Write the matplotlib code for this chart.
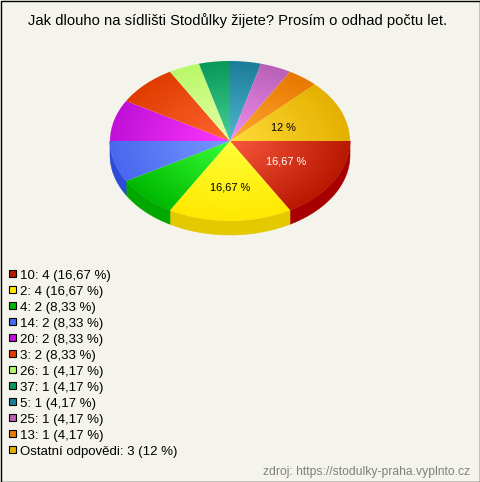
import numpy as np
import matplotlib
matplotlib.use("Agg")
import matplotlib.pyplot as plt
from matplotlib.patches import Wedge, Rectangle, Polygon
from matplotlib.colors import to_rgb
from matplotlib.transforms import Affine2D

plt.rcParams['font.family'] = ['Liberation Sans', 'DejaVu Sans']

title = "Jak dlouho na sídlišti Stodůlky žijete? Prosím o odhad počtu let."
source = "zdroj: https://stodulky-praha.vyplnto.cz"
categories = ["10", "2", "4", "14", "20", "3", "26", "37", "5", "25", "13", "Ostatní odpovědi"]
counts = [4, 4, 2, 2, 2, 2, 1, 1, 1, 1, 1, 3]
percents = ["16,67", "16,67", "8,33", "8,33", "8,33", "8,33", "4,17", "4,17", "4,17", "4,17", "4,17", "12"]
edge_colors = ["#b81800", "#ffe800", "#00b800", "#4868f0", "#c010d8", "#e03c00",
               "#b8f868", "#089858", "#1c7c98", "#b860b8", "#e87800", "#e4b000"]
centre_colors = ["#f8583c", "#ffff38", "#38ff38", "#7898ff", "#ff38ff", "#ff6830",
                 "#e8ffa8", "#48d098", "#50b8d0", "#f090f0", "#ffa830", "#ffdc38"]
side_colors = ["#a80000", "#e4c800", "#00a800", "#2c4cd8"]
pie_labels = {0: (286, 161, "white"), 1: (230, 188, "black"), 11: (283, 128, "black")}

BG = "#f5f4ec"
CX, CY, RX, RY, DEPTH = 230, 141, 120, 80, 14

fig = plt.figure(figsize=(4.80, 4.82), dpi=100, facecolor=BG)
ax = fig.add_axes([0, 0, 1, 1])
ax.set_xlim(0, 480)
ax.set_ylim(482, 0)
ax.axis("off")

angles = np.cumsum([0] + counts) / sum(counts) * 360.0

# side wall (front half only)
for i in range(len(counts)):
    a0, a1 = angles[i], min(angles[i + 1], 180)
    if a0 >= 180:
        break
    t = np.radians(np.linspace(a0, a1, 60))
    x = CX + RX * np.cos(t)
    y = CY + RY * np.sin(t)
    pts = np.r_[np.c_[x, y], np.c_[x[::-1], y[::-1] + DEPTH]]
    ax.add_patch(Polygon(pts, closed=True, fc=side_colors[i], ec=side_colors[i], lw=0.4))

# top face with radial gradient
g = np.linspace(-1.02, 1.02, 300)
xx, yy = np.meshgrid(g, g)
rr = np.clip(np.hypot(xx, yy), 0, 1)[..., None]
to_pix = Affine2D().scale(RX, RY).translate(CX, CY)
extent = (CX - 1.02 * RX, CX + 1.02 * RX, CY + 1.02 * RY, CY - 1.02 * RY)
for i in range(len(counts)):
    rgb = np.array(to_rgb(centre_colors[i])) * (1 - rr) + np.array(to_rgb(edge_colors[i])) * rr
    im = ax.imshow(rgb, extent=extent, origin="upper", aspect="auto", interpolation="bilinear", zorder=3)
    wedge = Wedge((0, 0), 1, angles[i], angles[i + 1], transform=to_pix + ax.transData, fc="none", ec="none")
    ax.add_patch(wedge)
    im.set_clip_path(wedge)
ax.set_xlim(0, 480)
ax.set_ylim(482, 0)

for i, (x, y, c) in pie_labels.items():
    ax.text(x, y, f"{percents[i]} %", ha="center", va="center", fontsize=7.9, color=c, zorder=5)

ax.text(237.5, 20.5, title, ha="center", va="center", fontsize=10.65, color="black")

for i, (cat, n, p) in enumerate(zip(categories, counts, percents)):
    y = 274 + 16 * i
    ax.add_patch(Rectangle((9, y - 4), 7, 7, fc=edge_colors[i], ec="black", lw=0.8))
    ax.text(20, y + 2, f"{cat}: {n} ({p} %)", ha="left", va="center", fontsize=9.55, color="black")

ax.text(470, 472, source, ha="right", va="center", fontsize=8.76, color="#808080")

ax.add_patch(Rectangle((0.5, 0.5), 479, 481, fc="none", ec="#000000", lw=1, zorder=6))
fig.savefig("out.png", dpi=100, facecolor=BG)
